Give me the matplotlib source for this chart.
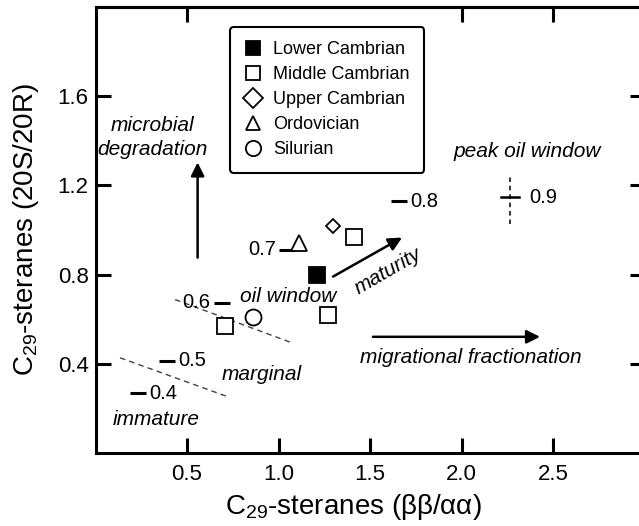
import matplotlib
matplotlib.use('Agg')
import matplotlib.pyplot as plt
from matplotlib.lines import Line2D

plt.rcParams['font.family'] = ['Liberation Sans', 'DejaVu Sans']
plt.rcParams['mathtext.fontset'] = 'custom'
plt.rcParams['mathtext.rm'] = 'Liberation Sans'
plt.rcParams['mathtext.it'] = 'Liberation Sans:italic'

# samples (C29 sterane ratios)
lower_x, lower_y = [1.21], [0.80]
middle_x, middle_y = [1.41, 1.27, 0.71], [0.97, 0.62, 0.57]
upper_x, upper_y = [1.30], [1.02]
ordo_x, ordo_y = [1.11], [0.94]
sil_x, sil_y = [0.86], [0.61]

# vitrinite reflectance marks
ro_x = [0.234, 0.389, 0.689, 1.048, 1.66]
ro_y = [0.268, 0.413, 0.674, 0.912, 1.13]
ro_labels = ['0.4', '0.5', '0.6', '0.7', '0.8']
ro_side = ['right', 'right', 'left', 'left', 'right']
# 0.9 with error cross
peak_x, peak_y = 2.265, 1.147
peak_xerr = 0.05
peak_yerr = (0.12, 0.09)

# dashed zone boundaries
bound1_x, bound1_y = [0.435, 1.074], [0.688, 0.494]
bound2_x, bound2_y = [0.134, 0.724], [0.427, 0.252]

fig = plt.figure(figsize=(6.39, 5.26), dpi=100)
ax = fig.add_axes([95.5 / 639, 73 / 526, 549 / 639, 446 / 526])
ax.set_xlim(0, 3.0)
ax.set_ylim(0, 2.0)

mk = dict(ls='none', mec='black', mew=1.3, zorder=5)
ax.plot(lower_x, lower_y, marker='s', ms=11.5, mfc='black', **mk)
ax.plot(middle_x, middle_y, marker='s', ms=11.5, mfc='white', **mk)
ax.plot(upper_x, upper_y, marker='D', ms=7.5, mfc='white', **mk)
ax.plot(ordo_x, ordo_y, marker='^', ms=12, mfc='white', **mk)
ax.plot(sil_x, sil_y, marker='o', ms=11.5, mfc='white', **mk)

# Ro dashes + labels
ax.plot(ro_x, ro_y, ls='none', marker='_', ms=12, mew=2.2, color='black', zorder=3)
for x, y, lab, side in zip(ro_x, ro_y, ro_labels, ro_side):
    if side == 'right':
        ax.annotate(lab, (x, y), xytext=(8, 0), textcoords='offset points',
                    ha='left', va='center', fontsize=14.5)
    else:
        ax.annotate(lab, (x, y), xytext=(-8, 0), textcoords='offset points',
                    ha='right', va='center', fontsize=14.5)

ax.plot([peak_x - peak_xerr, peak_x + peak_xerr], [peak_y, peak_y], color='black', lw=1.8)
ax.plot([peak_x, peak_x], [peak_y - peak_yerr[0], peak_y + peak_yerr[1]],
        color='black', lw=1.1, ls=(0, (3, 2.5)))
ax.annotate('0.9', (peak_x, peak_y), xytext=(14, 0), textcoords='offset points',
            ha='left', va='center', fontsize=14.5)

ax.plot(bound1_x, bound1_y, color='#444444', lw=1.0, ls=(0, (4, 3)))
ax.plot(bound2_x, bound2_y, color='#444444', lw=1.0, ls=(0, (4, 3)))

# arrows
arr = dict(arrowstyle='-|>', mutation_scale=20, lw=1.8, color='black', shrinkA=0, shrinkB=0)
ax.annotate('', xy=(0.558, 1.303), xytext=(0.558, 0.876), arrowprops=arr)
ax.annotate('', xy=(1.675, 0.966), xytext=(1.298, 0.791), arrowprops=arr)
ax.annotate('', xy=(2.429, 0.521), xytext=(1.516, 0.521), arrowprops=arr)

# zone annotations
tk = dict(fontsize=15, style='italic', ha='center', va='center')
ax.text(0.314, 1.415, 'microbial\ndegradation', linespacing=1.35, **tk)
ax.text(2.36, 1.353, 'peak oil window', **tk)
ax.text(1.052, 0.70, 'oil window', **tk)
ax.text(1.598, 0.813, 'maturity', rotation=30, **tk)
ax.text(0.91, 0.35, 'marginal', **tk)
ax.text(0.33, 0.148, 'immature', **tk)
ax.text(2.05, 0.427, 'migrational fractionation', **tk)

# axes styling
for s in ax.spines.values():
    s.set_linewidth(2.2)
ax.set_xticks([0.5, 1.0, 1.5, 2.0, 2.5])
ax.set_yticks([0.4, 0.8, 1.2, 1.6])
ax.tick_params(axis='both', direction='in', length=11, width=2.2, labelsize=16)
ax.tick_params(axis='x', pad=8)
ax.tick_params(axis='y', pad=5, right=True)
top = ax.secondary_xaxis('top')
top.set_xticks([0.5, 2.0, 2.5])
top.tick_params(direction='in', length=11, width=2.2, labeltop=False)
top.spines['top'].set_linewidth(2.2)

ax.set_xlabel(r'C$_{29}$-steranes (ββ/αα)', fontsize=20)
ax.xaxis.set_label_coords(0.469, -0.088)
ax.set_ylabel(r'C$_{29}$-steranes (20S/20R)', fontsize=20, labelpad=12)

handles = [
    Line2D([], [], marker='s', ms=10, mfc='black', mec='black', mew=1.3, ls='none'),
    Line2D([], [], marker='s', ms=10, mfc='white', mec='black', mew=1.3, ls='none'),
    Line2D([], [], marker='D', ms=10, mfc='white', mec='black', mew=1.3, ls='none'),
    Line2D([], [], marker='^', ms=10, mfc='white', mec='black', mew=1.3, ls='none'),
    Line2D([], [], marker='o', ms=11, mfc='white', mec='black', mew=1.3, ls='none'),
]
labels = ['Lower Cambrian', 'Middle Cambrian', 'Upper Cambrian', 'Ordovician', 'Silurian']
leg = ax.legend(handles, labels, loc='upper left', bbox_to_anchor=(230 / 639, 1 - 27 / 526),
                bbox_transform=fig.transFigure, fontsize=13, handlelength=1.0,
                handletextpad=0.6, labelspacing=0.44, borderpad=0.8, borderaxespad=0,
                fancybox=True, framealpha=1, edgecolor='black')
leg.get_frame().set_linewidth(1.5)

fig.savefig('out.png', dpi=100)
